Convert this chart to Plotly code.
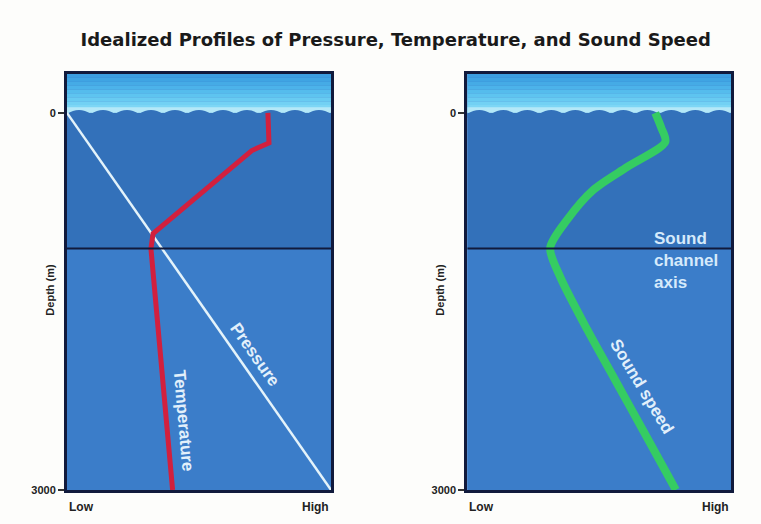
import plotly.graph_objects as go

# ---- data (normalized Low=0 .. High=1, depth in m) ----
pressure_depth = [0, 3000]
pressure_x = [0.0, 1.0]

temp_depth = [0, 240, 300, 960, 1080, 3000]
temp_x = [0.761, 0.765, 0.70, 0.326, 0.318, 0.40]

ss_depth = [0, 120, 231, 430, 613, 851, 1074, 1305, 1727, 2125, 2523, 3000]
ss_x = [0.712, 0.735, 0.75, 0.606, 0.477, 0.378, 0.314, 0.352, 0.455, 0.56, 0.665, 0.79]

axis_depth = 1080
depth_ticks = [0, 3000]
depth_ticktext = ["0", "3000"]

TOP = -310
OCEAN_UP = "#3371ba"
OCEAN_LOW = "#3b7dc9"
FRAME = "#111a3c"

fig = go.Figure()

fig.add_trace(go.Scatter(x=pressure_x, y=pressure_depth, mode="lines",
                         line=dict(color="#e4f3fa", width=2.5),
                         xaxis="x", yaxis="y", hoverinfo="skip"))
fig.add_trace(go.Scatter(x=temp_x, y=temp_depth, mode="lines",
                         line=dict(color="#d2203e", width=5),
                         xaxis="x", yaxis="y", hoverinfo="skip"))
fig.add_trace(go.Scatter(x=ss_x, y=ss_depth, mode="lines",
                         line=dict(color="#35cc62", width=8, shape="spline", smoothing=0.8),
                         xaxis="x2", yaxis="y2", hoverinfo="skip"))

shapes = []
sky_cols = ["#3b9ee0", "#3fa4e3", "#45abe6", "#4cb3ea", "#55bced",
            "#5ec4f0", "#68cbf2", "#72d1f4", "#7dd6f5", "#8adbf6"]
for ax in ["", "2"]:
    xr, yr = "x" + ax, "y" + ax
    nb = len(sky_cols)
    for i, c in enumerate(sky_cols):
        y0 = TOP + (0 - TOP) * i / nb
        y1 = TOP + (0 - TOP) * (i + 1) / nb
        shapes.append(dict(type="rect", xref=xr, yref=yr, x0=0, x1=1, y0=y0, y1=y1,
                           fillcolor=c, line=dict(width=0), layer="below"))
    shapes.append(dict(type="rect", xref=xr, yref=yr, x0=0, x1=1, y0=0, y1=axis_depth,
                       fillcolor=OCEAN_UP, line=dict(width=0), layer="below"))
    shapes.append(dict(type="rect", xref=xr, yref=yr, x0=0, x1=1, y0=axis_depth, y1=3000,
                       fillcolor=OCEAN_LOW, line=dict(width=0), layer="below"))
    # wave crest band
    shapes.append(dict(type="rect", xref=xr, yref=yr, x0=0, x1=1, y0=-45, y1=0,
                       fillcolor="#b4e8f8", line=dict(width=0), layer="below"))
    n = 11
    w = 1.0 / n
    path = "M 0,10"
    for k in range(n):
        xa = k * w
        path += f" Q {xa + w / 2:.4f},-55 {xa + w:.4f},10"
    path += " L 1,40 L 0,40 Z"
    shapes.append(dict(type="path", xref=xr, yref=yr, path=path,
                       fillcolor=OCEAN_UP, line=dict(width=0), layer="below"))
    shapes.append(dict(type="line", xref=xr, yref=yr, x0=0, x1=1, y0=axis_depth, y1=axis_depth,
                       line=dict(color=FRAME, width=2)))

ann = []
for xc in [0.055, 0.578]:
    ann.append(dict(text="<b>Depth (m)</b>", x=xc, y=0.447, xref="paper", yref="paper",
                    textangle=-90, showarrow=False, font=dict(size=11, color="#222")))
for ax in ["", "2"]:
    ann.append(dict(text="<b>Low</b>", x=0, y=0.032, xref="x" + ax, yref="paper",
                    xanchor="left", yanchor="middle", showarrow=False,
                    font=dict(size=12, color="#222")))
    ann.append(dict(text="<b>High</b>", x=1, y=0.032, xref="x" + ax, yref="paper",
                    xanchor="right", yanchor="middle", showarrow=False,
                    font=dict(size=12, color="#222")))

lab = dict(size=17, color="#e2f0fb")
ann.append(dict(text="<b>Pressure</b>", x=0.71, y=1926, xref="x", yref="y",
                textangle=55, showarrow=False, font=lab))
ann.append(dict(text="<b>Temperature</b>", x=0.44, y=2451, xref="x", yref="y",
                textangle=85, showarrow=False, font=lab))
ann.append(dict(text="<b>Sound speed</b>", x=0.66, y=2180, xref="x2", yref="y2",
                textangle=59, showarrow=False, font=lab))
ann.append(dict(text="<b>Sound<br>channel<br>axis</b>", x=0.70, y=1178, xref="x2", yref="y2",
                xanchor="left", align="left", showarrow=False,
                font=dict(size=17, color="#d6eafb")))

common_x = dict(range=[0, 1], showgrid=False, zeroline=False, showticklabels=False,
                showline=True, mirror=True, linewidth=3, linecolor=FRAME, fixedrange=True,
                automargin=False)
common_y = dict(range=[3000, TOP], showgrid=False, zeroline=False, domain=[0.065, 0.859],
                tickvals=depth_ticks, ticktext=[f"<b>{t}</b>" for t in depth_ticktext],
                ticks="outside", ticklen=6, tickwidth=1.5, tickcolor="#333",
                tickfont=dict(size=11, color="#222"),
                showline=True, mirror=True, linewidth=3, linecolor=FRAME, fixedrange=True,
                automargin=False)

fig.update_layout(
    width=761, height=524,
    margin=dict(l=0, r=0, t=0, b=0),
    paper_bgcolor="#fdfdfb", plot_bgcolor=OCEAN_LOW,
    showlegend=False,
    font=dict(family="Liberation Sans, Arial, sans-serif"),
    title=dict(text="<b>Idealized Profiles of Pressure, Temperature, and Sound Speed</b>",
               x=0.52, y=0.924, xanchor="center", yanchor="middle",
               font=dict(size=18, color="#1a1a1a", family="DejaVu Sans, sans-serif")),
    xaxis=dict(domain=[0.088, 0.435], anchor="y", **common_x),
    yaxis=dict(anchor="x", **common_y),
    xaxis2=dict(domain=[0.614, 0.961], anchor="y2", **common_x),
    yaxis2=dict(anchor="x2", **common_y),
    shapes=shapes,
    annotations=ann,
)

fig.write_html("out.html", config={"displayModeBar": False},
               post_script="document.body.style.margin='0';document.body.style.overflow='hidden';")
